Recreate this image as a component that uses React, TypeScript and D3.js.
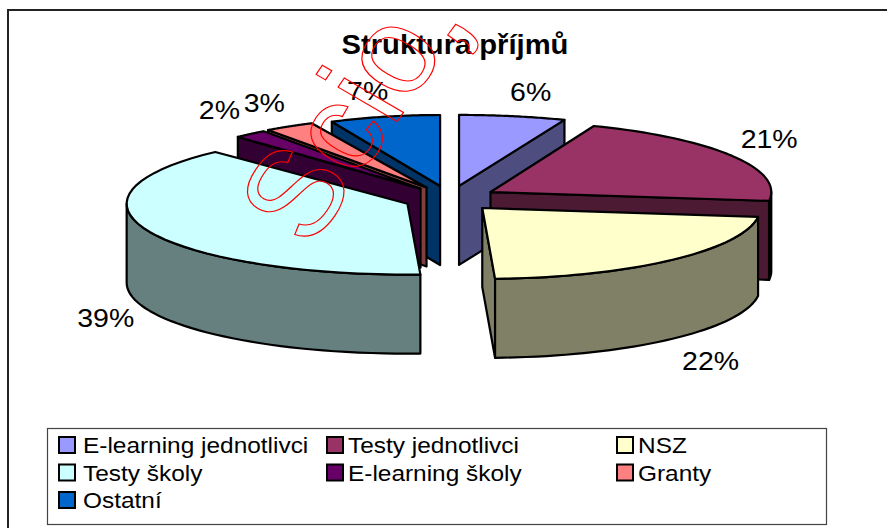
import React from "react";
import * as d3 from "d3";

const categories = [
  "E-learning jednotlivci",
  "Testy jednotlivci",
  "NSZ",
  "Testy školy",
  "E-learning školy",
  "Granty",
  "Ostatní",
];
const shares = [6, 21, 22, 39, 2, 3, 7];
const colors = ["#9999FF", "#993366", "#FFFFCC", "#CCFFFF", "#660066", "#FF8080", "#0066CC"];

// painter's order, back slices first
const drawOrder = [0, 6, 5, 4, 1, 3, 2];
// label nudges from the outer rim of each slice
const labelNudge: [number, number][] = [
  [18, -24],
  [37, -17],
  [38, 22],
  [-44, 7],
  [-31, -24],
  [-25, -23],
  [-17, -26],
];
// the original's perspective squeezes some slices a little
const radiusScale = [1.03, 1.01, 1, 1.01, 0.96, 0.97, 0.915];

const width = 887;
const height = 528;
const cx = 450.3;
const cy = 198.6;
const rx = 278;
const ry = 71;
const depth = 79;
const explodeX = 46.7;
const explodeY = 12.9;
const font = "'Liberation Sans', Arial, sans-serif";

const pie = d3
  .pie<number>()
  .sort(null)
  .startAngle(0)
  .endAngle(2 * Math.PI);

const line = d3
  .line<[number, number]>()
  .x((d) => d[0])
  .y((d) => d[1]);

function Stretched({ x, y, size, weight, anchor, sx, children }: any) {
  return (
    <text
      transform={`translate(${x},${y}) scale(${sx},1)`}
      fontFamily={font}
      fontSize={size}
      fontWeight={weight}
      textAnchor={anchor}
      fill="#000"
    >
      {children}
    </text>
  );
}

export default function App() {
  const arcs = pie(shares);

  const slices = arcs.map((a, i) => {
    const mid = (a.startAngle + a.endAngle) / 2;
    const ax = cx + explodeX * Math.sin(mid);
    const ay = cy - explodeY * Math.cos(mid);
    const rim = (t: number): [number, number] => {
      const s = Math.sin(t);
      // front centre of the ellipse is pulled in slightly
      const squeeze = Math.cos(t) < 0 ? 1 - 0.35 * Math.exp(-((s / 0.12) ** 2)) : 1;
      return [ax + rx * radiusScale[i] * s * squeeze, ay - ry * Math.cos(t)];
    };
    const arcPts = (t0: number, t1: number) =>
      d3.range(41).map((k) => rim(t0 + ((t1 - t0) * k) / 40));
    const drop = (p: [number, number]): [number, number] => [p[0], p[1] + depth];
    const apex: [number, number] = [ax, ay];

    const top = line([apex, ...arcPts(a.startAngle, a.endAngle)]) + "Z";
    const walls: string[] = [];
    if (Math.sin(a.startAngle) < -1e-6) {
      const p = rim(a.startAngle);
      walls.push(line([apex, p, drop(p), drop(apex)]) + "Z");
    }
    if (Math.sin(a.endAngle) > 1e-6) {
      const p = rim(a.endAngle);
      walls.push(line([apex, p, drop(p), drop(apex)]) + "Z");
    }
    // outer wall only on the front half of the ellipse
    const f0 = Math.max(a.startAngle, Math.PI / 2);
    const f1 = Math.min(a.endAngle, (3 * Math.PI) / 2);
    if (f1 > f0) {
      const pts = arcPts(f0, f1);
      walls.push(line([...pts, ...pts.slice().reverse().map(drop)]) + "Z");
    }

    const m = rim(mid);
    const rimY = Math.cos(mid) < 0 ? m[1] + depth : m[1];
    const [nx, ny] = labelNudge[i];
    const c = d3.rgb(colors[i]);
    return {
      top,
      walls,
      color: colors[i],
      wallColor: d3.rgb(c.r * 0.5, c.g * 0.5, c.b * 0.5).formatHex(),
      lx: m[0] + nx,
      ly: rimY + ny + 9,
      label: `${shares[i]}%`,
    };
  });

  const swatchX = d3.scaleOrdinal<number, number>().domain([0, 1, 2]).range([59, 327, 617]);
  const nameX = d3.scaleOrdinal<number, number>().domain([0, 1, 2]).range([83, 348, 638]);
  const legendY = d3.scalePoint<number>().domain([0, 1, 2]).range([445, 500]);

  return (
    <svg
      width={width}
      height={height}
      style={{ position: "absolute", left: 0, top: 0, background: "#fff" }}
    >
      {/* chart frame */}
      <path d={`M8 ${height}V10H${width}`} fill="none" stroke="#222" strokeWidth={2} />

      <Stretched x={455} y={54} size={27} weight="bold" anchor="middle" sx={1.08}>
        Struktura příjmů
      </Stretched>

      {/* slices */}
      {drawOrder.map((i) => (
        <g key={i} stroke="#000" strokeWidth={2.2} strokeLinejoin="round">
          {slices[i].walls.map((d, k) => (
            <path key={k} d={d} fill={slices[i].wallColor} />
          ))}
          <path d={slices[i].top} fill={slices[i].color} />
        </g>
      ))}

      {/* value labels */}
      {slices.map((s, i) => (
        <Stretched key={i} x={s.lx} y={s.ly} size={25} anchor="middle" sx={1.14}>
          {s.label}
        </Stretched>
      ))}

      {/* legend */}
      <rect x={47.5} y={428.5} width={779} height={96} fill="#fff" stroke="#444" strokeWidth={1.2} />
      {categories.map((name, i) => {
        const col = i % 3;
        const row = Math.floor(i / 3);
        const y = legendY(row)!;
        return (
          <g key={name}>
            <rect x={swatchX(col)} y={y - 8} width={16} height={16} fill={colors[i]} stroke="#000" strokeWidth={2} />
            <Stretched x={nameX(col)} y={y + 8} size={22} anchor="start" sx={1.11}>
              {name}
            </Stretched>
          </g>
        );
      })}

      {/* watermark, skewed like the stretched original */}
      <g fill="none" stroke="#FF0000" strokeWidth={1.1}>
        <text
          transform="matrix(0.59,-0.867,0.933,0.542,310,250)"
          fontFamily={font}
          fontSize={120}
        >
          Scio
        </text>
        <path d="M447.7 35L455.7 24.3C466 29 478 38 478 45Q478 50 473 54L468 51.7Q471 46 466 42Q462 38 457.7 42Z" />
      </g>
    </svg>
  );
}
